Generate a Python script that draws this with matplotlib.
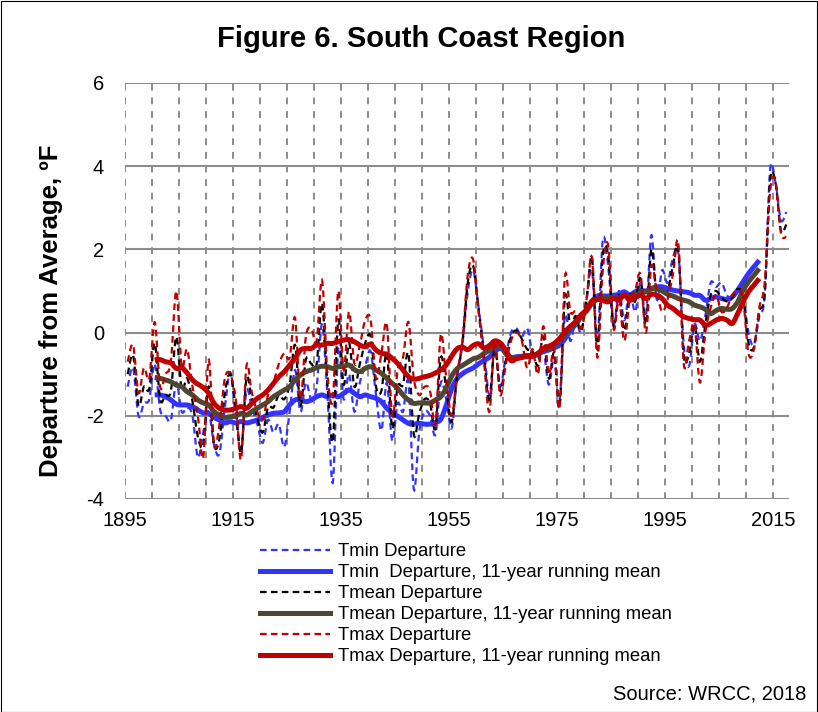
import matplotlib
matplotlib.use("Agg")
import matplotlib.pyplot as plt
from matplotlib.patches import Rectangle, PathPatch
from matplotlib.path import Path
from matplotlib.lines import Line2D
import numpy as np

plt.rcParams['font.family'] = ['Liberation Sans', 'DejaVu Sans']

# ---------------- data ----------------
years = list(range(1895, 2018))

tmin = [-1.3, -0.85, -2.0, -1.7, -1.6, -0.75, -1.85, -2.0, -2.1, -1.2,
        -1.9, -1.8, -2.0, -3.0, -2.4, -1.9, -2.7, -2.9, -1.8, -0.95,
        -2.0, -2.8, -1.4, -1.8, -2.2, -2.65, -2.1, -2.4, -2.2, -2.75,
        -1.9, -0.9, -1.9, -1.2, -1.6, -1.3, 0.2, -1.5, -3.6, -0.4,
        -1.6, -1.0, -1.9, -1.2, -0.8, -0.45, -1.5, -2.35, -1.2, -2.6,
        -1.7, -1.9, -1.2, -3.77, -2.4, -1.9, -2.0, -2.45, -1.2, -1.6,
        -2.3, -1.1, -0.3, 1.0, 1.5, 0.6, -0.4, -1.5, -0.4, -1.3,
        -0.6, 0.0, 0.1, -0.1, 0.1, -0.5, -0.6, -0.4, -1.25, -0.6,
        -1.6, 0.4, -0.2, 0.3, 0.0, 0.8, 1.5, -0.2, 2.22, 1.6,
        0.2, 1.0, 0.3, 1.0, 0.5, 1.2, 0.4, 2.34, 0.8, 1.5,
        1.2, 1.8, 1.9, -0.3, -0.8, 0.2, -0.2, 0.4, 1.2, 1.1,
        1.2, 0.9, 0.8, 1.1, 0.9, 0.0, -0.3, 0.4, 0.9, 3.9,
        3.6, 2.7, 2.9]

tmean = [-1.0, -0.55, -1.75, -1.3, -1.35, -0.25, -1.6, -1.5, -1.4, -0.1,
         -1.35, -1.1, -1.65, -2.5, -2.7, -1.3, -2.7, -2.55, -1.45, -1.0,
         -1.8, -2.9, -1.1, -1.6, -2.05, -2.4, -1.8, -1.8, -1.5, -1.6,
         -1.25, -0.3, -1.75, -0.65, -0.75, -0.75, 0.7, -1.25, -2.6, 0.3,
         -1.25, -0.25, -1.3, -0.75, -0.25, -0.1, -1.3, -1.4, -0.5, -2.3,
         -1.3, -1.25, -0.5, -2.45, -1.95, -1.6, -1.7, -2.3, -0.6, -1.35,
         -2.15, -1.05, -0.25, 1.2, 1.6, 0.55, -0.55, -1.7, -0.3, -1.4,
         -0.7, -0.1, 0.05, -0.15, -0.4, -0.45, -0.8, -0.1, -1.1, -0.5,
         -1.8, 0.85, 0.15, 0.4, 0.05, 0.8, 1.8, -0.4, 1.85, 1.85,
         0.15, 0.9, 0.05, 0.9, 0.75, 1.3, 0.2, 2.0, 0.9, 1.0,
         1.0, 1.6, 2.0, -0.55, -0.5, 0.2, -0.7, 0.2, 0.9, 1.0,
         0.85, 0.75, 0.85, 1.05, 0.85, -0.25, -0.35, 0.5, 0.95, 3.65,
         3.6, 2.45, 2.6]

tmax = [-0.7, -0.3, -1.45, -0.85, -1.1, 0.25, -1.3, -1.0, -0.7, 1.0,
        -0.8, -0.4, -1.3, -2.0, -3.0, -0.65, -2.7, -2.2, -1.1, -1.0,
        -1.6, -3.05, -0.8, -1.45, -1.9, -2.1, -1.5, -1.2, -0.75, -0.5,
        -0.6, 0.35, -1.6, -0.1, 0.1, -0.2, 1.26, -1.0, -1.6, 1.0,
        -0.9, 0.5, -0.75, -0.3, 0.3, 0.3, -1.1, -0.5, 0.2, -2.0,
        -0.9, -0.6, 0.25, -1.1, -1.5, -1.3, -1.4, -2.2, -0.05, -1.1,
        -2.0, -1.0, -0.2, 1.4, 1.75, 0.5, -0.7, -1.9, -0.2, -1.5,
        -0.8, -0.2, 0.0, -0.2, -0.85, -0.4, -1.0, 0.15, -1.0, -0.4,
        -1.8, 1.35, 0.5, 0.5, 0.1, 0.8, 1.8, -0.6, 1.5, 2.1,
        0.1, 0.8, -0.2, 0.8, 1.0, 1.4, 0.0, 1.6, 1.0, 0.5,
        0.8, 1.4, 2.15, -0.75, -0.2, 0.2, -1.2, 0.0, 0.6, 0.9,
        0.5, 0.6, 0.9, 1.0, 0.8, -0.5, -0.4, 0.6, 1.2, 3.4,
        3.65, 2.4, 2.3]

rm_years = list(range(1900, 2013))

tmin_rm = [-1.50, -1.50, -1.54, -1.62, -1.72, -1.74, -1.74, -1.78, -1.86, -1.93,
           -1.94, -2.04, -2.10, -2.17, -2.14, -2.17, -2.14, -2.17, -2.14, -2.10,
           -2.04, -1.98, -1.94, -1.93, -1.90, -1.74, -1.62, -1.61, -1.66, -1.62,
           -1.54, -1.50, -1.54, -1.50, -1.54, -1.46, -1.38, -1.46, -1.54, -1.50,
           -1.54, -1.58, -1.66, -1.82, -1.93, -2.01, -2.10, -2.18, -2.20, -2.18,
           -2.20, -2.20, -2.16, -2.08, -1.75, -1.35, -1.11, -0.99, -0.91, -0.85,
           -0.75, -0.67, -0.59, -0.45, -0.38, -0.45, -0.60, -0.58, -0.57, -0.55,
           -0.55, -0.52, -0.45, -0.42, -0.36, -0.30, -0.15, 0.05, 0.20, 0.38,
           0.55, 0.75, 0.88, 0.88, 0.88, 0.90, 0.92, 0.98, 0.90, 0.98,
           1.02, 1.00, 1.06, 1.10, 1.10, 1.06, 1.02, 1.00, 0.98, 0.96,
           0.90, 0.89, 0.78, 0.82, 0.86, 0.82, 0.80, 0.86, 1.02, 1.22,
           1.42, 1.58, 1.74]

tmean_rm = [-1.08, -1.10, -1.14, -1.18, -1.26, -1.30, -1.42, -1.50, -1.62, -1.69,
            -1.74, -1.90, -1.98, -2.04, -2.02, -2.01, -1.94, -1.98, -1.90, -1.82,
            -1.74, -1.66, -1.54, -1.46, -1.38, -1.30, -1.14, -1.02, -0.94, -0.90,
            -0.84, -0.81, -0.82, -0.86, -0.82, -0.81, -0.78, -0.89, -0.94, -0.86,
            -0.82, -0.90, -0.98, -1.10, -1.22, -1.34, -1.50, -1.62, -1.70, -1.69,
            -1.69, -1.69, -1.62, -1.54, -1.33, -1.05, -0.87, -0.79, -0.71, -0.63,
            -0.59, -0.50, -0.43, -0.35, -0.31, -0.50, -0.60, -0.60, -0.58, -0.57,
            -0.56, -0.50, -0.42, -0.37, -0.30, -0.20, -0.05, 0.10, 0.23, 0.40,
            0.52, 0.70, 0.80, 0.83, 0.82, 0.85, 0.84, 0.90, 0.86, 0.90,
            0.95, 0.98, 1.05, 1.05, 1.00, 0.92, 0.88, 0.82, 0.78, 0.74,
            0.66, 0.62, 0.56, 0.46, 0.53, 0.58, 0.56, 0.58, 0.74, 1.02,
            1.22, 1.38, 1.54]

tmax_rm = [-0.66, -0.65, -0.70, -0.73, -0.86, -0.84, -0.97, -1.14, -1.24, -1.32,
           -1.46, -1.70, -1.82, -1.86, -1.86, -1.82, -1.78, -1.82, -1.70, -1.58,
           -1.50, -1.38, -1.22, -1.06, -0.94, -0.78, -0.62, -0.42, -0.38, -0.38,
           -0.30, -0.30, -0.26, -0.26, -0.22, -0.18, -0.17, -0.22, -0.30, -0.34,
           -0.28, -0.42, -0.50, -0.52, -0.62, -0.74, -0.90, -1.06, -1.12, -1.10,
           -1.06, -1.03, -0.97, -0.90, -0.78, -0.57, -0.39, -0.35, -0.41, -0.31,
           -0.27, -0.37, -0.31, -0.20, -0.25, -0.42, -0.67, -0.63, -0.60, -0.57,
           -0.57, -0.50, -0.38, -0.33, -0.26, -0.14, 0.02, 0.15, 0.27, 0.43,
           0.55, 0.76, 0.80, 0.77, 0.74, 0.82, 0.78, 0.90, 0.78, 0.84,
           0.90, 0.82, 0.92, 0.90, 0.82, 0.66, 0.58, 0.47, 0.38, 0.34,
           0.31, 0.30, 0.18, 0.22, 0.30, 0.34, 0.30, 0.22, 0.46, 0.74,
           0.98, 1.14, 1.30]

labels = ["Tmin Departure",
          "Tmin  Departure, 11-year running mean",
          "Tmean Departure",
          "Tmean Departure, 11-year running mean",
          "Tmax Departure",
          "Tmax Departure, 11-year running mean"]

title = "Figure 6. South Coast Region"
ylabel = "Departure from Average, \u00baF"
source = "Source: WRCC, 2018"
xticks = [1895, 1915, 1935, 1955, 1975, 1995, 2015]
yticks = [-4, -2, 0, 2, 4, 6]

# ---------------- figure ----------------
W, H = 818, 712
fig = plt.figure(figsize=(W / 100, H / 100), dpi=100)
ax = fig.add_axes([125 / W, 1 - 499 / H, (789 - 125) / W, (499 - 83) / H])

blue = '#3333FF'
dark = '#000000'
olive = '#4E4832'
red = '#C00000'


def smooth_line(ax, xs, ys, **kw):
    """Draw an Excel-style smoothed line (cubic Bezier through the points)."""
    xs = np.asarray(xs, float)
    ys = np.asarray(ys, float)
    n = len(xs)
    verts = [(xs[0], ys[0])]
    codes = [Path.MOVETO]
    for i in range(n - 1):
        x0, y0 = (xs[i - 1], ys[i - 1]) if i > 0 else (xs[i], ys[i])
        x1, y1 = xs[i], ys[i]
        x2, y2 = xs[i + 1], ys[i + 1]
        x3, y3 = (xs[i + 2], ys[i + 2]) if i + 2 < n else (x2, y2)
        c1 = (x1 + (x2 - x0) / 6.0, y1 + (y2 - y0) / 6.0)
        c2 = (x2 - (x3 - x1) / 6.0, y2 - (y3 - y1) / 6.0)
        verts += [c1, c2, (x2, y2)]
        codes += [Path.CURVE4] * 3
    patch = PathPatch(Path(verts, codes), fill=False, **kw)
    ax.add_patch(patch)
    return patch


# years plotted at the middle of each year
x = np.array(years) + 0.5
xr = np.array(rm_years) + 0.5

dash_ls = (0, (3, 1.9))
LW_D, LW_T = 1.6, 3.6

smooth_line(ax, x, tmin, edgecolor=blue, lw=LW_D, linestyle=dash_ls)
smooth_line(ax, xr, tmin_rm, edgecolor=blue, lw=LW_T, capstyle='butt')
smooth_line(ax, x, tmean, edgecolor=dark, lw=LW_D, linestyle=dash_ls)
smooth_line(ax, xr, tmean_rm, edgecolor=olive, lw=LW_T, capstyle='butt')
smooth_line(ax, x, tmax, edgecolor=red, lw=LW_D, linestyle=dash_ls)
smooth_line(ax, xr, tmax_rm, edgecolor=red, lw=LW_T, capstyle='butt')

ax.set_xlim(1895, 2018)
ax.set_ylim(-4, 6)

# gridlines
for yv in yticks:
    ax.axhline(yv, color='#8C8C8C', lw=1.5, zorder=0)
for xv in range(1895, 2018, 5):
    ax.axvline(xv, color='#8C8C8C', lw=1.4, dashes=(3.5, 3.5), zorder=0)

for s in ax.spines.values():
    s.set_visible(False)

ax.set_xticks(xticks)
ax.set_xticklabels([str(v) for v in xticks], fontsize=14.5)
ax.set_yticks(yticks)
ax.set_yticklabels([str(v) for v in yticks], fontsize=14.5)
ax.tick_params(axis='both', length=0)
ax.tick_params(axis='y', pad=15)
ax.tick_params(axis='x', pad=9)

fig.text(421 / W, 1 - 39 / H, title, ha='center', va='center',
         fontsize=21, fontweight='bold')
fig.text(51 / W, 1 - 311 / H, ylabel, ha='center', va='center',
         rotation=90, fontsize=18.5, fontweight='bold')
fig.text(806 / W, 1 - 700 / H, source, ha='right', va='baseline', fontsize=14.5)

handles = [
    Line2D([], [], color=blue, lw=LW_D, linestyle=dash_ls),
    Line2D([], [], color=blue, lw=LW_T),
    Line2D([], [], color=dark, lw=LW_D, linestyle=dash_ls),
    Line2D([], [], color=olive, lw=LW_T),
    Line2D([], [], color=red, lw=LW_D, linestyle=dash_ls),
    Line2D([], [], color=red, lw=LW_T),
]
fig.legend(handles, labels, loc='upper left',
           bbox_to_anchor=(260 / W, 1 - 543 / H),
           frameon=False, fontsize=13.3, handlelength=3.8,
           handletextpad=0.4, labelspacing=0.22, borderpad=0,
           borderaxespad=0)

fig.patches.append(Rectangle((0.5 / W, 0.5 / H), 1 - 1.5 / W, 1 - 1.5 / H,
                             transform=fig.transFigure, fill=False,
                             edgecolor='#000000', lw=0.8))

fig.savefig('out.png', dpi=100)
